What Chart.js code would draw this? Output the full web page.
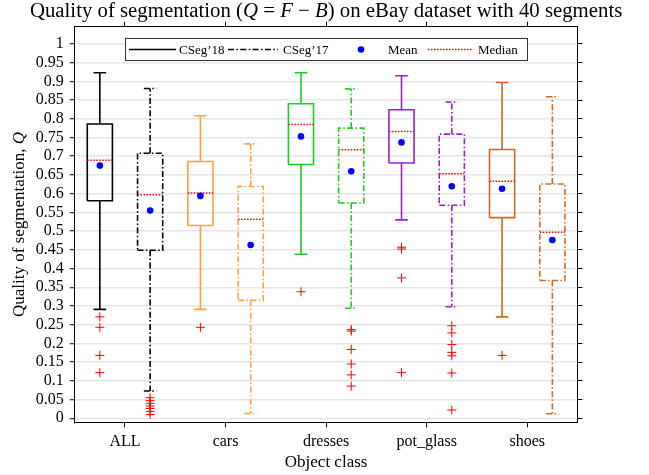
<!DOCTYPE html>
<html>
<head>
<meta charset="utf-8">
<script src="https://cdn.jsdelivr.net/npm/chart.js@4.4.0/dist/chart.umd.min.js"></script>
<style>
  html, body { margin: 0; padding: 0; background: #fff; }
  #wrap { width: 649px; height: 475px; }
</style>
</head>
<body>
<div id="wrap"><canvas id="chart" width="649" height="475"></canvas></div>
<script>
// categories and series
const categories = ['ALL', 'cars', 'dresses', 'pot_glass', 'shoes'];
const seriesNames = ['CSeg\u201918', 'CSeg\u201917'];
const xTickPositions = [1.5, 3.5, 5.5, 7.5, 9.5];
const yTicks = [0, 0.05, 0.1, 0.15, 0.2, 0.25, 0.3, 0.35, 0.4, 0.45, 0.5,
                0.55, 0.6, 0.65, 0.7, 0.75, 0.8, 0.85, 0.9, 0.95, 1];

// one entry per box: ALL'18, ALL'17, cars'18, cars'17, ...
const whiskerLow  = [0.291, 0.073, 0.291, 0.013, 0.438, 0.294, 0.530, 0.298, 0.271, 0.012];
const q1          = [0.581, 0.449, 0.515, 0.315, 0.678, 0.575, 0.682, 0.569, 0.536, 0.368];
const median      = [0.689, 0.597, 0.602, 0.532, 0.785, 0.717, 0.766, 0.653, 0.633, 0.497];
const q3          = [0.786, 0.708, 0.686, 0.619, 0.840, 0.775, 0.824, 0.759, 0.718, 0.626];
const whiskerHigh = [0.923, 0.881, 0.808, 0.733, 0.923, 0.880, 0.915, 0.845, 0.897, 0.859];
const mean        = [0.675, 0.555, 0.594, 0.463, 0.753, 0.660, 0.737, 0.620, 0.613, 0.476];
const outliers = [
  [0.271, 0.243, 0.168, 0.122],
  [0.055, 0.047, 0.040, 0.033, 0.026, 0.018, 0.010],
  [0.243],
  [],
  [0.338],
  [0.237, 0.233, 0.184, 0.145, 0.116, 0.086],
  [0.457, 0.452, 0.375, 0.122],
  [0.247, 0.228, 0.197, 0.176, 0.167, 0.121, 0.022],
  [0.168],
  []
];

const colors = ['#000000', '#ffa040', '#1ecc1e', '#9a1fd2', '#d2691e'];
const dashDot = [6, 2.4, 1.5, 2.4];
const serif = "'Liberation Serif', 'DejaVu Serif', serif";
const HALF = 0.25, CAP = 0.125;

function boxPoints(i) {
  const x = i + 1;
  const gap = {x: x, y: null};
  return [
    {x: x - HALF, y: q1[i]}, {x: x + HALF, y: q1[i]}, {x: x + HALF, y: q3[i]},
    {x: x - HALF, y: q3[i]}, {x: x - HALF, y: q1[i]}, gap,
    {x: x, y: q3[i]}, {x: x, y: whiskerHigh[i]}, gap,
    {x: x - CAP, y: whiskerHigh[i]}, {x: x + CAP, y: whiskerHigh[i]}, gap,
    {x: x, y: q1[i]}, {x: x, y: whiskerLow[i]}, gap,
    {x: x - CAP, y: whiskerLow[i]}, {x: x + CAP, y: whiskerLow[i]}
  ];
}

const datasets = [];
median.forEach((m, i) => {
  datasets.push({
    label: seriesNames[i % 2] + ' ' + categories[Math.floor(i / 2)],
    data: boxPoints(i),
    borderColor: colors[Math.floor(i / 2)],
    borderWidth: 1.6,
    borderDash: i % 2 ? dashDot : [],
    pointRadius: 0,
    fill: false,
    tension: 0,
    spanGaps: false,
    order: 3
  });
});

const medianData = [];
median.forEach((m, i) => {
  medianData.push({x: i + 1 - HALF, y: m}, {x: i + 1 + HALF, y: m}, {x: i + 1, y: null});
});
datasets.push({
  label: 'Median', data: medianData, borderColor: '#ff0000', borderWidth: 1.5,
  borderDash: [1.5, 1.5], pointRadius: 0, spanGaps: false, order: 1
});

datasets.push({
  label: 'Mean', data: mean.map((v, i) => ({x: i + 1, y: v})), showLine: false,
  pointRadius: 3.3, pointBackgroundColor: '#0000ff', pointBorderWidth: 0, order: 0
});

const outlierData = [];
outliers.forEach((list, i) => list.forEach(v => outlierData.push({x: i + 1, y: v})));
datasets.push({
  label: 'Outliers', data: outlierData, showLine: false, pointStyle: 'cross',
  pointRadius: 4.5, pointBorderColor: '#ff0000', pointBorderWidth: 1, order: 2
});

function drawParts(ctx, parts, size, cx, cy) {
  let total = 0;
  parts.forEach(p => {
    ctx.font = (p[1] ? 'italic ' : '') + size + 'px ' + serif;
    total += ctx.measureText(p[0]).width;
  });
  let x = cx - total / 2;
  ctx.textAlign = 'left';
  ctx.textBaseline = 'middle';
  parts.forEach(p => {
    ctx.font = (p[1] ? 'italic ' : '') + size + 'px ' + serif;
    ctx.fillText(p[0], x, cy);
    x += ctx.measureText(p[0]).width;
  });
}

const textPlugin = {
  id: 'texts',
  afterDraw(chart) {
    const ctx = chart.ctx;
    const area = chart.chartArea;
    ctx.save();
    ctx.fillStyle = '#000';
    drawParts(ctx, [['Quality of segmentation (', false], ['Q', true], [' = ', false], ['F', true],
      [' \u2212 ', false], ['B', true], [') on eBay dataset with 40 segments', false]],
      20.8, (area.left + area.right) / 2, 12);
    ctx.translate(20, (area.top + area.bottom) / 2);
    ctx.rotate(-Math.PI / 2);
    drawParts(ctx, [['Quality of segmentation, ', false], ['Q', true]], 17, 0, 0);
    ctx.restore();

    // legend
    ctx.save();
    const lx = 125.5, ly = 38.5, lw = 402, lh = 22, cy = ly + lh / 2;
    ctx.fillStyle = '#fff';
    ctx.strokeStyle = '#333';
    ctx.lineWidth = 1;
    ctx.fillRect(lx, ly, lw, lh);
    ctx.strokeRect(lx, ly, lw, lh);
    ctx.font = '13px ' + serif;
    ctx.textBaseline = 'middle';
    ctx.textAlign = 'left';
    const line = (x0, x1, color, dash, width) => {
      ctx.beginPath();
      ctx.setLineDash(dash);
      ctx.strokeStyle = color;
      ctx.lineWidth = width;
      ctx.moveTo(x0, cy);
      ctx.lineTo(x1, cy);
      ctx.stroke();
    };
    line(129, 176, '#000', [], 1.6);
    ctx.fillStyle = '#000';
    ctx.fillText(seriesNames[0], 179, cy + 1);
    line(228, 278, '#000', dashDot, 1.6);
    ctx.fillText(seriesNames[1], 283, cy + 1);
    ctx.beginPath();
    ctx.fillStyle = '#0000ff';
    ctx.arc(361, cy, 3.3, 0, Math.PI * 2);
    ctx.fill();
    ctx.fillStyle = '#000';
    ctx.fillText('Mean', 388, cy + 1);
    line(428, 473, '#ff0000', [1.5, 1.5], 1.5);
    ctx.fillText('Median', 478, cy + 1);
    ctx.restore();
  }
};

const tickFont = {family: serif, size: 16};
const labelFont = {family: serif, size: 17};
const setXTicks = s => { s.ticks = xTickPositions.map(v => ({value: v})); };
const setYTicks = s => { s.ticks = yTicks.map(v => ({value: v})); };
const Y_MIN = -0.0107, Y_MAX = 1.046;

new Chart(document.getElementById('chart'), {
  type: 'line',
  data: {datasets: datasets},
  options: {
    responsive: false,
    animation: false,
    layout: {padding: 0},
    plugins: {legend: {display: false}, title: {display: false}, tooltip: {enabled: false}},
    scales: {
      x: {
        type: 'linear', position: 'bottom', min: 0.5, max: 10.5,
        afterBuildTicks: setXTicks,
        ticks: {
          callback: v => categories[xTickPositions.indexOf(v)],
          font: tickFont, color: '#000', padding: 5, autoSkip: false, maxRotation: 0
        },
        grid: {drawOnChartArea: false, tickLength: 5, tickColor: '#000', tickWidth: 1},
        border: {color: '#000', width: 1},
        title: {display: true, text: 'Object class', font: labelFont, color: '#000', padding: {top: 0, bottom: 2}},
        afterFit: s => { s.height = 52.7; }
      },
      x2: {
        type: 'linear', position: 'top', min: 0.5, max: 10.5,
        afterBuildTicks: setXTicks,
        ticks: {display: false},
        grid: {drawOnChartArea: false, tickLength: 5, tickColor: '#000', tickWidth: 1},
        border: {color: '#000', width: 1},
        afterFit: s => { s.height = 26.7; }
      },
      y: {
        type: 'linear', position: 'left', min: Y_MIN, max: Y_MAX,
        afterBuildTicks: setYTicks,
        ticks: {
          callback: v => String(Math.round(v * 100) / 100),
          font: tickFont, color: '#000', padding: 6, autoSkip: false
        },
        grid: {color: '#e6e6e6', lineWidth: 1.5, tickLength: 5, tickColor: '#000', tickWidth: 1},
        border: {color: '#000', width: 1},
        afterFit: s => { s.width = 74.7; }
      },
      y2: {
        type: 'linear', position: 'right', min: Y_MIN, max: Y_MAX,
        afterBuildTicks: setYTicks,
        ticks: {display: false, autoSkip: false},
        grid: {drawOnChartArea: false, tickLength: 5, tickColor: '#000', tickWidth: 1},
        border: {color: '#000', width: 1},
        afterFit: s => { s.width = 71.5; }
      }
    }
  },
  plugins: [textPlugin]
});
</script>
</body>
</html>
